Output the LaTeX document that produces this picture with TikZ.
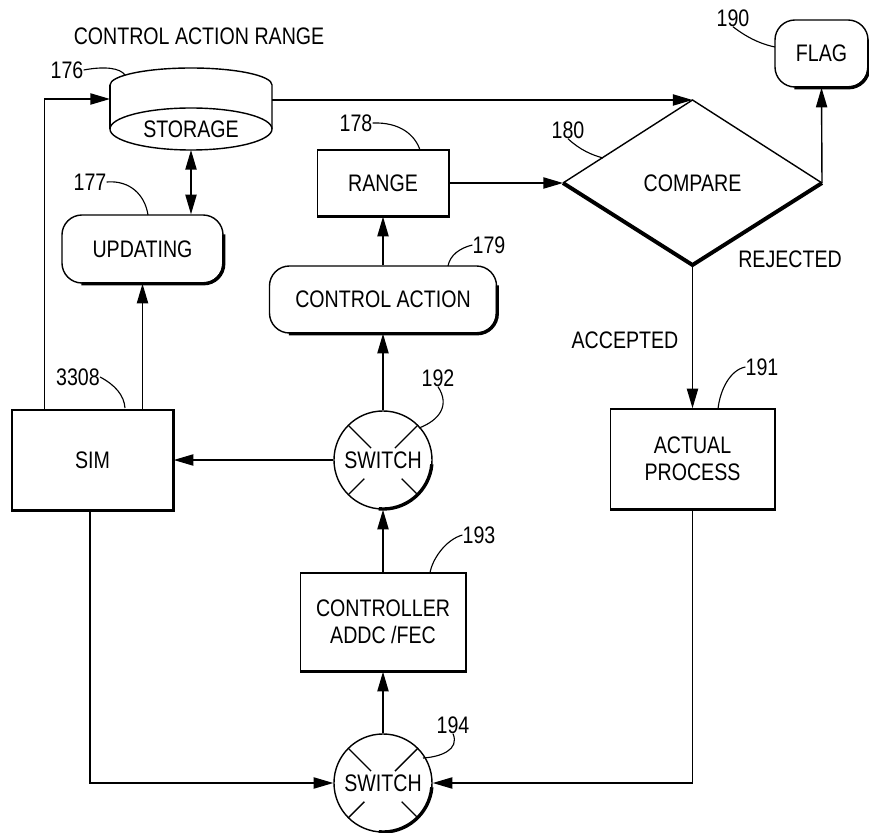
\documentclass[tikz,border=0pt]{standalone}
\usepackage{fontspec}
\setmainfont{Liberation Sans}[FakeStretch=0.82]
\usetikzlibrary{arrows.meta,calc}
\begin{document}
\begin{tikzpicture}[x=0.025cm,y=-0.025cm,
  every node/.style={font=\fontsize{17}{19.5}\selectfont},
  ln/.style={line width=1pt},
  arr/.style={ln,-{Triangle[length=14pt,width=8pt]}},
  arrs/.style={ln,{Triangle[length=14pt,width=8pt]}-{Triangle[length=14pt,width=8pt]}},
  box/.style={draw,ln,inner sep=0pt,align=center},
  rbox/.style={box,rounded corners=0.5cm},
  sw/.style={draw,ln,circle,minimum size=2.45cm,inner sep=0pt},
  shade/.style={line width=2.4pt},
  rshade/.style={line width=1.8pt},
  lead/.style={line width=0.8pt},
  lbl/.style={inner sep=0pt}
]
\useasboundingbox (0,0) rectangle (869,833);

% title
\node[lbl] (title) at (199,36) {CONTROL ACTION RANGE};

% storage drum
\draw[ln] (110,85) arc[start angle=180,end angle=0,x radius=2.025cm,y radius=0.425cm] -- (272,129);
\draw[ln] (110,85) -- (110,129);
\draw[ln] (191,129) ellipse[x radius=2.025cm,y radius=0.525cm];
\node[lbl] (storage) at (191,129) {STORAGE};
\coordinate (stL) at (110,99);
\coordinate (stR) at (272,100);
\coordinate (stB) at (191,150);

% compare diamond
\coordinate (cT) at (692.5,100);
\coordinate (cL) at (563,183);
\coordinate (cR) at (822,183);
\coordinate (cB) at (692.5,265);
\node[lbl] (compare) at (692.5,183) {COMPARE};
\draw[ln] (cL) -- (cT) -- (cR);
\draw[line width=2.8pt,line join=miter] (cL) -- (cB) -- (cR);

% boxes
\node[box,minimum width=3.275cm,minimum height=1.65cm] (range) at (383,183) {RANGE};
\node[rbox,minimum width=5.675cm,minimum height=1.675cm] (ca) at (383,299.5) {CONTROL ACTION};
\node[rbox,minimum width=4.025cm,minimum height=1.7cm] (upd) at (142.5,249) {UPDATING};
\node[box,minimum width=4.025cm,minimum height=2.5cm] (sim) at (92.5,460) {SIM};
\node[sw] (sw1) at (383,460) {SWITCH};
\node[box,minimum width=4.125cm,minimum height=2.45cm] (ctrl) at (383,622) {CONTROLLER\\ADDC /FEC};
\node[sw] (sw2) at (383,783) {SWITCH};
\node[box,minimum width=4.1cm,minimum height=2.5cm] (ap) at (692.5,459) {ACTUAL\\PROCESS};
\node[rbox,minimum width=2.325cm,minimum height=1.675cm] (flag) at (821.5,53.5) {FLAG};

% shadows on rounded boxes
\foreach \n in {ca,upd,flag}{
  \draw[shade] ([yshift=-0.5cm]\n.north east) -- ([yshift=0.5cm]\n.south east)
    arc[start angle=0,end angle=-90,radius=0.5cm] -- ([xshift=0.5cm]\n.south west);
}
% shadows on square boxes
\foreach \n in {range,sim,ctrl,ap}{
  \draw[rshade] (\n.north east) -- (\n.south east) -- (\n.south west);
}
% switch details
\foreach \s in {sw1,sw2}{
  \draw[ln] ($(\s)+(45:1.225cm)$) -- ($(\s)+(45:0.42cm)$);
  \draw[ln] ($(\s)+(135:1.225cm)$) -- ($(\s)+(135:0.42cm)$);
  \draw[ln] ($(\s)+(225:1.225cm)$) -- ($(\s)+(225:0.66cm)$);
  \draw[ln] ($(\s)+(315:1.225cm)$) -- ($(\s)+(315:0.66cm)$);
  \draw[shade] ($(\s)+(-5:1.225cm)$) arc[start angle=-5,end angle=-95,radius=1.225cm];
}

% connectors
\draw[arr] ([xshift=0.825cm]sim.north west) |- (stL);
\draw[arr] (stR) -- (cT);
\draw[arrs] (stB) -- (stB |- upd.north);
\draw[arr] (upd.south |- sim.north) -- (upd.south);
\draw[arr] (range.east) -- (cL);
\draw[arr] (ca.north) -- (range.south);
\draw[arr] (sw1.north) -- (ca.south);
\draw[arr] (sw1.west) -- (sim.east);
\draw[arr] (ctrl.north) -- (sw1.south);
\draw[arr] (sw2.north) -- (ctrl.south);
\draw[arr] ([xshift=-0.0625cm]sim.south) |- (sw2.west);
\draw[arr] (ap.south) |- (sw2.east);
\draw[arr] (cB) -- (ap.north);
\draw[arr] (cR) -- (flag.south);

% labels
\node[lbl] (acc) at (625,340) {ACCEPTED};
\node[lbl] (rej) at (790,259) {REJECTED};

\node[lbl] (n176) at (67,70) {176};
\draw[lead] (n176.east) .. controls (105,66) and (120,68) .. (125,75);
\node[lbl] (n177) at (90,182) {177};
\draw[lead] (n177.east) .. controls (130,180) and (145,195) .. (148,215);
\node[lbl] (n3308) at (78,377) {3308};
\draw[lead] (n3308.east) .. controls (115,385) and (124,395) .. (125,408);
\node[lbl] (n178) at (356,123) {178};
\draw[lead] (n178.east) .. controls (400,122) and (415,135) .. (420,150);
\node[lbl] (n179) at (489,245) {179};
\draw[lead] (n179.west) .. controls (460,248) and (450,255) .. (448,266);
\node[lbl] (n180) at (568,130) {180};
\draw[lead] (n180.south) .. controls (580,150) and (592,155) .. (603,158);
\node[lbl] (n190) at (733,18) {190};
\draw[lead] (n190.south) .. controls (750,40) and (765,45) .. (775,47);
\node[lbl] (n192) at (438,378) {192};
\draw[lead] (n192.south) .. controls (450,405) and (440,420) .. (419,428);
\node[lbl] (n193) at (479,535) {193};
\draw[lead] (n193.west) .. controls (445,540) and (432,560) .. (430,573);
\node[lbl] (n194) at (453,725) {194};
\draw[lead] (n194.south) .. controls (460,750) and (440,757) .. (423,758);
\node[lbl] (n191) at (762,367) {191};
\draw[lead] (n191.west) .. controls (730,370) and (720,390) .. (718,409);
\end{tikzpicture}
\end{document}
